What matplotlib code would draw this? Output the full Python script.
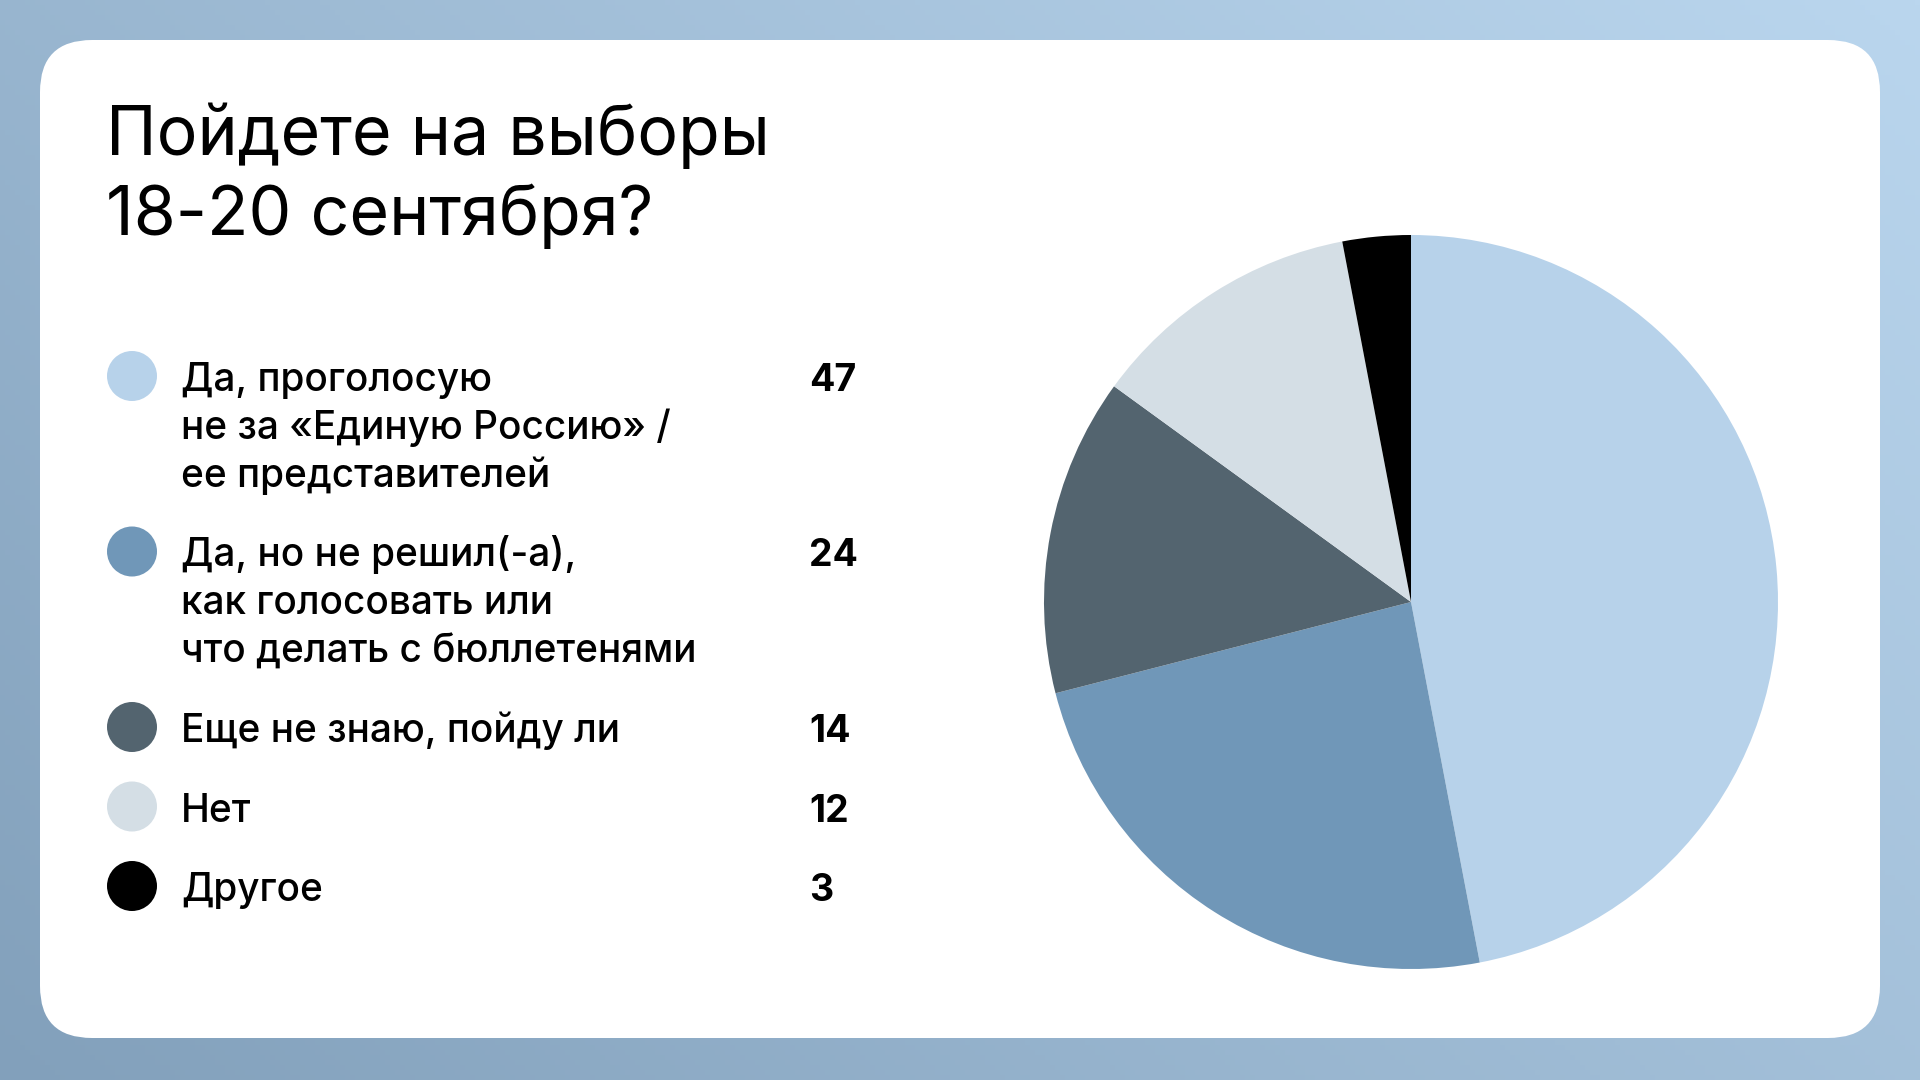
import matplotlib
matplotlib.use('Agg')
import matplotlib.pyplot as plt
from matplotlib.patches import FancyBboxPatch, Circle
from matplotlib.colors import to_rgb
import numpy as np

plt.rcParams['font.family'] = ['Inter', 'DejaVu Sans']

# data
title_lines = ['Пойдете на выборы', '18-20 сентября?']
labels = [
    'Да, проголосую\nне за «Единую Россию» /\nее представителей',
    'Да, но не решил(-а),\nкак голосовать или\nчто делать с бюллетенями',
    'Еще не знаю, пойду ли',
    'Нет',
    'Другое',
]
values = [47, 24, 14, 12, 3]
colors = ['#b7d2ea', '#7097b8', '#53646f', '#d4dee5', '#000000']

W, H = 1920, 1080
fig = plt.figure(figsize=(19.2, 10.8), dpi=100)

# background in pixel coords (y down)
bg = fig.add_axes([0, 0, 1, 1])
bg.set_xlim(0, W)
bg.set_ylim(H, 0)
bg.axis('off')

gx, gy = np.meshgrid(np.linspace(0, 1, 384), np.linspace(0, 1, 216))
t = 0.6 * gx + 0.4 * (1 - gy)
c_dark = np.array(to_rgb('#82a0bb'))
c_light = np.array(to_rgb('#bad6ee'))
grad = c_dark + (c_light - c_dark) * t[..., None]
bg.imshow(grad, extent=(0, W, H, 0), aspect='auto', zorder=0)

card = FancyBboxPatch((40, 40), W - 80, 998,
                      boxstyle='round,pad=0,rounding_size=52',
                      facecolor='white', edgecolor='none', zorder=1)
bg.add_patch(card)

# title
for i, line in enumerate(title_lines):
    bg.text(106, 155 + i * 80, line, fontsize=49, color='black',
            va='baseline', ha='left', zorder=3)

# legend rows
y = 391
for lab, val, col in zip(labels, values, colors):
    bg.add_patch(Circle((132, y - 15), 25, facecolor=col, edgecolor='none', zorder=3))
    lines = lab.split('\n')
    for j, ln in enumerate(lines):
        bg.text(181, y + j * 48, ln, fontsize=27.9, fontweight='medium',
                color='black', va='baseline', ha='left', zorder=3)
    bg.text(809, y, str(val), fontsize=27, fontweight='bold', color='black',
            va='baseline', ha='left', zorder=3)
    y += (len(lines) - 1) * 48 + 79.5

# pie
cx, cy, r = 1411, 602, 367
axp = fig.add_axes([(cx - r) / W, (H - cy - r) / H, 2 * r / W, 2 * r / H])
axp.pie(values, colors=colors, startangle=90, counterclock=False,
        wedgeprops=dict(linewidth=0))
axp.set_xlim(-1, 1)
axp.set_ylim(-1, 1)
axp.axis('off')

fig.savefig('out.png', dpi=100)
